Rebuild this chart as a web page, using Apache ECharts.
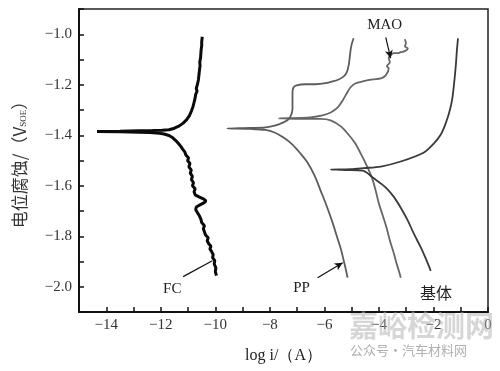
<!DOCTYPE html>
<html><head><meta charset="utf-8">
<script src="https://cdn.jsdelivr.net/npm/echarts@6/dist/echarts.min.js"></script>
<style>html,body{margin:0;padding:0;background:#fff}#c{width:500px;height:371px}</style>
</head><body><div id="c"></div>
<script>
// ---- data (log i in A, potential in V) ----
const xTickLabels = ['\u221214','\u221212','\u221210','\u22128','\u22126','\u22124','\u22122','0'];
const yTickLabels = ['\u22121.0','\u22121.2','\u22121.4','\u22121.6','\u22121.8','\u22122.0'];
const seriesNames = ['FC','PP','MAO','基体'];

const fcCurve = [
[-9.96,-1.956],[-10.00,-1.940],[-9.98,-1.925],[-10.04,-1.910],[-10.02,-1.897],[-10.10,-1.885],[-10.08,-1.872],[-10.14,-1.860],[-10.20,-1.850],[-10.16,-1.840],[-10.24,-1.830],[-10.30,-1.818],[-10.26,-1.806],[-10.36,-1.795],[-10.40,-1.782],[-10.44,-1.770],[-10.40,-1.758],[-10.50,-1.746],[-10.53,-1.732],[-10.58,-1.720],[-10.66,-1.706],[-10.72,-1.694],[-10.70,-1.684],[-10.58,-1.677],[-10.44,-1.669],[-10.34,-1.661],[-10.42,-1.653],[-10.60,-1.644],[-10.74,-1.636],[-10.78,-1.624],[-10.74,-1.612],[-10.84,-1.600],[-10.80,-1.588],[-10.88,-1.575],[-10.84,-1.563],[-10.92,-1.550],[-10.88,-1.538],[-10.97,-1.525],[-10.93,-1.512],[-11.02,-1.500],[-10.98,-1.490],[-11.08,-1.478],[-11.12,-1.466],[-11.20,-1.455],[-11.26,-1.445],[-11.36,-1.432],[-11.46,-1.420],[-11.56,-1.410],[-11.70,-1.401],[-11.88,-1.395],[-12.05,-1.392],[-12.40,-1.389],[-12.80,-1.388],[-13.50,-1.386],[-14.34,-1.385],[-13.50,-1.384],[-12.80,-1.382],[-12.30,-1.381],[-11.95,-1.380],[-11.70,-1.378],[-11.50,-1.372],[-11.32,-1.363],[-11.18,-1.352],[-11.05,-1.338],[-10.95,-1.322],[-10.88,-1.305],[-10.82,-1.287],[-10.78,-1.270],[-10.74,-1.252],[-10.72,-1.238],[-10.67,-1.225],[-10.70,-1.215],[-10.66,-1.200],[-10.62,-1.180],[-10.60,-1.160],[-10.58,-1.140],[-10.56,-1.125],[-10.57,-1.110],[-10.54,-1.092],[-10.53,-1.075],[-10.52,-1.060],[-10.50,-1.045],[-10.50,-1.030],[-10.48,-1.010]
];
const ppCurve = [
[-5.15,-1.964],[-5.22,-1.929],[-5.29,-1.897],[-5.40,-1.849],[-5.55,-1.798],[-5.70,-1.746],[-5.92,-1.679],[-6.14,-1.619],[-6.36,-1.560],[-6.62,-1.508],[-6.88,-1.472],[-7.17,-1.437],[-7.50,-1.409],[-7.83,-1.389],[-8.16,-1.379],[-8.71,-1.375],[-9.56,-1.373],[-8.71,-1.371],[-8.16,-1.369],[-7.79,-1.361],[-7.50,-1.349],[-7.32,-1.337],[-7.21,-1.317],[-7.17,-1.294],[-7.17,-1.262],[-7.17,-1.230],[-7.13,-1.210],[-7.02,-1.202],[-6.69,-1.198],[-6.32,-1.198],[-5.96,-1.194],[-5.70,-1.187],[-5.48,-1.179],[-5.29,-1.167],[-5.18,-1.151],[-5.11,-1.123],[-5.07,-1.091],[-5.04,-1.063],[-5.00,-1.040],[-4.93,-1.016]
];
const maoCurve = [
[-3.20,-1.964],[-3.27,-1.937],[-3.35,-1.909],[-3.46,-1.865],[-3.60,-1.817],[-3.71,-1.770],[-3.86,-1.718],[-4.01,-1.667],[-4.12,-1.619],[-4.26,-1.567],[-4.45,-1.520],[-4.67,-1.472],[-4.89,-1.429],[-5.15,-1.393],[-5.40,-1.365],[-5.77,-1.341],[-6.14,-1.335],[-6.88,-1.335],[-7.68,-1.333],[-6.88,-1.331],[-6.51,-1.329],[-6.07,-1.321],[-5.77,-1.310],[-5.51,-1.290],[-5.33,-1.262],[-5.18,-1.234],[-5.04,-1.210],[-4.85,-1.194],[-4.60,-1.187],[-4.23,-1.179],[-3.93,-1.175],[-3.75,-1.163],[-3.64,-1.135],[-3.71,-1.127],[-3.60,-1.111],[-3.64,-1.095],[-3.57,-1.083],[-3.46,-1.075],[-3.31,-1.075],[-3.20,-1.071],[-3.05,-1.067],[-2.94,-1.056],[-3.05,-1.048],[-3.01,-1.036],[-3.05,-1.020]
];
const baseCurve = [
[-2.10,-1.937],[-2.28,-1.889],[-2.46,-1.845],[-2.72,-1.790],[-2.94,-1.738],[-3.20,-1.687],[-3.46,-1.643],[-3.71,-1.611],[-3.93,-1.591],[-4.23,-1.567],[-4.45,-1.548],[-4.60,-1.540],[-5.22,-1.538],[-5.77,-1.536],[-5.04,-1.534],[-4.56,-1.530],[-3.93,-1.524],[-3.20,-1.504],[-2.35,-1.468],[-1.99,-1.433],[-1.73,-1.397],[-1.58,-1.361],[-1.43,-1.313],[-1.32,-1.262],[-1.25,-1.202],[-1.18,-1.123],[-1.14,-1.063],[-1.10,-1.016]
];
// annotation positions (data units)
const labelPos = { 'FC':[-11.58,-2.008], 'PP':[-6.84,-2.004], 'MAO':[-3.79,-0.964], '基体':[-1.91,-2.024] };
const pointers = {
  'FC':[[-11.18,-1.960],[-10.11,-1.897]],
  'PP':[[-6.25,-1.964],[-5.33,-1.905]],
  'MAO':[[-3.75,-1.012],[-3.57,-1.095]]
};

const chart = echarts.init(document.getElementById('c'), null, {renderer:'canvas'});
const serif = '"Liberation Serif","Times New Roman",serif';

function annot(name, arrow) {
  const o = {};
  if (pointers[name]) {
    o.markLine = {
      silent:true, animation:false, symbol:['none', arrow ? 'arrow' : 'none'], symbolSize:[6,8],
      lineStyle:{color:'#111', width:1.2, type:'solid'}, label:{show:false},
      data:[[{coord:pointers[name][0]},{coord:pointers[name][1]}]]
    };
  }
  o.markPoint = {
    silent:true, animation:false, symbol:'circle', symbolSize:0,
    label:{show:true, position:'inside', formatter:name, color:'#222',
      fontFamily: name==='基体' ? '"Noto Sans CJK SC",sans-serif' : serif,
      fontSize: name==='基体' ? 16 : 15},
    data:[{coord:labelPos[name]}]
  };
  return o;
}

const yLabelSet = new Set(yTickLabels);
const xLabelSet = new Set(xTickLabels);
function fmt(v, d){ const s = Math.abs(v).toFixed(d); return (v < -1e-9 ? '\u2212' : '') + s; }

const option = {
  animation:false,
  backgroundColor:'#fff',
  grid:{left:79, top:9, right:12, bottom:59, show:true, borderColor:'#222', borderWidth:1.5},
  xAxis:{
    type:'value', min:-15, max:0, interval:1,
    name:'log i/（A）', nameLocation:'middle', nameGap:36,
    nameTextStyle:{fontFamily:serif, fontSize:16, color:'#222'},
    axisLine:{show:true, onZero:false, lineStyle:{color:'#111', width:2}},
    axisTick:{show:true, inside:true, length:5, lineStyle:{color:'#111', width:1.5}},
    axisLabel:{margin:6, fontFamily:serif, fontSize:15, color:'#333',
      formatter:v=>{ const s = fmt(v,0); return xLabelSet.has(s) ? s : ''; }},
    splitLine:{show:false}
  },
  yAxis:{
    type:'value', min:-2.1, max:-0.9, interval:0.1,
    name:'电位腐蚀/（V{sub|SOE}）', nameLocation:'middle', nameGap:51, nameRotate:90,
    nameTextStyle:{fontFamily:'"Noto Sans CJK SC",sans-serif', fontSize:17, color:'#333',
      rich:{sub:{fontSize:9, fontFamily:serif, color:'#333', verticalAlign:'bottom', padding:[8,0,0,0]}}},
    axisLine:{show:true, onZero:false, lineStyle:{color:'#111', width:2}},
    axisTick:{show:true, inside:true, length:5, lineStyle:{color:'#111', width:1.5}},
    axisLabel:{margin:7, fontFamily:serif, fontSize:15, color:'#333',
      formatter:v=>{ const s = fmt(v,1); return yLabelSet.has(s) ? s : ''; }},
    splitLine:{show:false}
  },
  series:[
    Object.assign({type:'line', name:seriesNames[0], data:fcCurve, showSymbol:false, symbol:'none',
      lineStyle:{color:'#0a0a0a', width:3}, z:5}, annot('FC', false)),
    Object.assign({type:'line', name:seriesNames[1], data:ppCurve, showSymbol:false, symbol:'none', smooth:0.3,
      lineStyle:{color:'#5c5c5c', width:1.8}, z:4}, annot('PP', true)),
    Object.assign({type:'line', name:seriesNames[2], data:maoCurve, showSymbol:false, symbol:'none', smooth:0.3,
      lineStyle:{color:'#666', width:1.8}, z:3}, annot('MAO', true)),
    Object.assign({type:'line', name:seriesNames[3], data:baseCurve, showSymbol:false, symbol:'none', smooth:0.3,
      lineStyle:{color:'#3a3a3a', width:1.8}, z:4}, annot('基体', false))
  ],
  graphic:[
    {type:'text', left:349, top:311, z:100, silent:true,
      style:{text:'嘉峪检测网', font:'bold 29px "Noto Sans CJK SC",sans-serif', fill:'rgba(180,180,180,0.55)'}},
    {type:'text', left:350, top:344, z:100, silent:true,
      style:{text:'公众号·汽车材料网', font:'13px "Noto Sans CJK SC",sans-serif', fill:'rgba(150,150,150,0.75)'}}
  ]
};
chart.setOption(option);
</script>
</body></html>
